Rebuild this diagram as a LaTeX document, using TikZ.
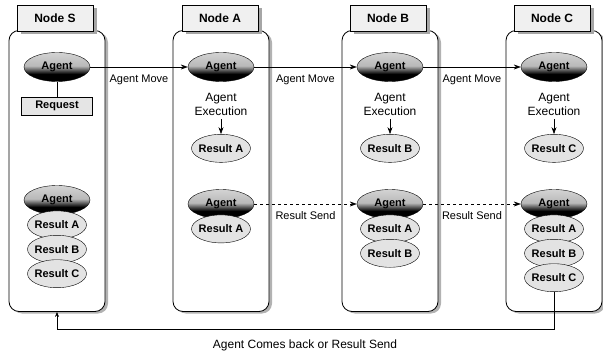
\documentclass[tikz,border=0pt]{standalone}
\usepackage{fontspec}
\setmainfont{Liberation Sans}
\usetikzlibrary{positioning,shapes.geometric,shadows,arrows.meta}

\pgfdeclareverticalshading{agentshade}{100bp}{color(0bp)=(black); color(38bp)=(black); color(52bp)=(gray!55); color(100bp)=(gray!12)}

\begin{document}
\begin{tikzpicture}[x=1pt, y=-1pt, node distance=4pt, font=\fontsize{11}{13}\selectfont]
	\tikzstyle{column}=[draw, thick, rounded corners=10pt, fill=white, minimum width=96pt, minimum height=281pt, drop shadow={shadow xshift=3pt, shadow yshift=-2pt, fill=gray!60, opacity=1}]
	\tikzstyle{header}=[draw, fill=gray!12, font=\bfseries\fontsize{12}{14}\selectfont, minimum width=76pt, minimum height=26pt, drop shadow={shadow xshift=4pt, shadow yshift=-3pt, fill=gray!70, opacity=1}]
	\tikzstyle{agent}=[ellipse, draw, shade, shading=agentshade, minimum width=66pt, minimum height=29pt, inner sep=0pt, font=\bfseries\fontsize{11}{13}\selectfont]
	\tikzstyle{result}=[ellipse, draw, fill=gray!22, minimum width=59pt, minimum height=28pt, inner sep=-1.5pt, font=\bfseries\fontsize{11}{13}\selectfont]
	\tikzstyle{request}=[draw, fill=gray!20, minimum width=71pt, minimum height=18pt, font=\bfseries\fontsize{11}{13}\selectfont]
	\tikzstyle{exec}=[align=center, font=\fontsize{12}{14}\selectfont]
	\tikzstyle{move}=[-{Stealth[length=7pt, width=5pt]}, semithick]
	\tikzstyle{send}=[move, dashed]

	\useasboundingbox (0,0) rectangle (603,353);

	\node (colS) [column] at (57,171) {};
	\node (colA) [column] at (221,171) {};
	\node (colB) [column] at (390,171) {};
	\node (colC) [column] at (554,171) {};

	\node (hdS) [header] at (55,18) {Node S};
	\node (hdA) [header] at (220,18) {Node A};
	\node (hdB) [header] at (388,18) {Node B};
	\node (hdC) [header] at (552,18) {Node C};

	\node (agS) [agent] at (57,67) {Agent};
	\node (req) [request, below=15pt of agS] {Request};
	\draw[semithick] (agS) -- (req);

	\node (agA) [agent] at (221,67) {Agent};
	\node (exA) [exec, below=8pt of agA] {Agent\\Execution};
	\node (resA) [result, below=15pt of exA] {Result A};
	\draw[move] (exA) -- (resA);

	\node (agB) [agent] at (390,67) {Agent};
	\node (exB) [exec, below=8pt of agB] {Agent\\Execution};
	\node (resB) [result, below=15pt of exB] {Result B};
	\draw[move] (exB) -- (resB);

	\node (agC) [agent] at (554,67) {Agent};
	\node (exC) [exec, below=8pt of agC] {Agent\\Execution};
	\node (resC) [result, below=15pt of exC] {Result C};
	\draw[move] (exC) -- (resC);

	\node (agS2) [agent] at (57,200) {Agent};
	\node (rSa) [result, below=-4pt of agS2] {Result A};
	\node (rSb) [result, below=-4pt of rSa] {Result B};
	\node (rSc) [result, below=-4pt of rSb] {Result C};

	\node (agA2) [agent] at (221,204) {Agent};
	\node (rAa) [result, below=-4pt of agA2] {Result A};

	\node (agB2) [agent] at (390,204) {Agent};
	\node (rBa) [result, below=-4pt of agB2] {Result A};
	\node (rBb) [result, below=-4pt of rBa] {Result B};

	\node (agC2) [agent] at (554,204) {Agent};
	\node (rCa) [result, below=-4pt of agC2] {Result A};
	\node (rCb) [result, below=-4pt of rCa] {Result B};
	\node (rCc) [result, below=-4pt of rCb] {Result C};

	\draw[move] (agS) -- node[below=4pt] {Agent Move} (agA);
	\draw[move] (agA) -- node[below=4pt] {Agent Move} (agB);
	\draw[move] (agB) -- node[below=4pt] {Agent Move} (agC);

	\draw[send] (agA2) -- node[below=4pt] {Result Send} (agB2);
	\draw[send] (agB2) -- node[below=4pt] {Result Send} (agC2);

	\draw[-{Stealth[length=5pt, width=4pt]}, semithick] (rCc.south) -- ++(0,37) -| (colS.south);
	\node (back) [font=\fontsize{12}{14}\selectfont] at (305,345) {Agent Comes back or Result Send};

\end{tikzpicture}
\end{document}
